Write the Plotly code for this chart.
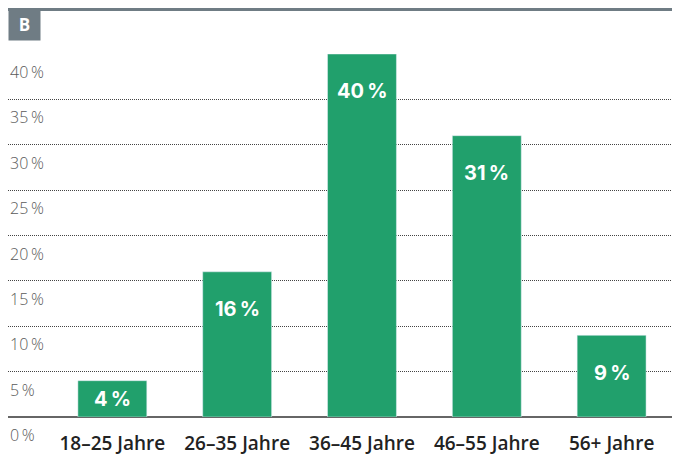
"""Age distribution bar chart (panel B)."""
import plotly.graph_objects as go

categories = ["18–25 Jahre", "26–35 Jahre", "36–45 Jahre", "46–55 Jahre", "56+ Jahre"]
shares = [4, 16, 40, 31, 9]
y_ticks = [0, 5, 10, 15, 20, 25, 30, 35, 40]
y_tick_labels = [f"{v}\u2009%" for v in y_ticks]

GREEN = "#21a06c"
SLATE = "#6f7c84"

fig = go.Figure(go.Bar(
    x=categories, y=shares,
    marker_color=GREEN,
    hoverinfo="skip",
))

# value labels inside bars, a fixed distance below the bar top
label_y = [max(v - 4.1, v / 2) for v in shares]
for cat, v, ly in zip(categories, shares, label_y):
    fig.add_annotation(
        x=cat, y=ly, text=f"{v}\u2009%", showarrow=False,
        font=dict(family="Inter", size=20, color="white", weight="bold"),
        yanchor="middle",
    )

# y tick labels sit just below each gridline, flush left
for v, lab in zip(y_ticks, y_tick_labels):
    fig.add_annotation(
        x=0, y=v, xref="paper", yref="y", text=lab, showarrow=False,
        xanchor="left", yanchor="top", yshift=-5,
        font=dict(family="Open Sans", size=16, color="#5a5a5a", weight=300),
    )

# header strip and panel letter
fig.add_shape(type="rect", xref="paper", yref="paper", ysizemode="pixel",
              yanchor=1, x0=0, x1=1, y0=43, y1=46,
              fillcolor=SLATE, line_width=0)
fig.add_annotation(x=0, y=1, xref="paper", yref="paper", yshift=46,
                   xanchor="left", yanchor="top",
                   text="<b>B</b>", showarrow=False,
                   width=31, height=31, align="center", valign="middle",
                   bgcolor=SLATE, borderpad=0,
                   font=dict(family="Open Sans", size=17, color="white"))

fig.update_layout(
    width=680, height=454,
    margin=dict(l=0, r=0, t=46, b=45),
    paper_bgcolor="white", plot_bgcolor="white",
    bargap=0.448,
    showlegend=False,
    font=dict(family="Open Sans"),
)
fig.update_xaxes(
    range=[-0.836, 4.612],
    showgrid=False, showline=False,
    ticks="outside", ticklen=9, tickcolor="rgba(0,0,0,0)",
    tickfont=dict(family="Open Sans", size=19, color="#222222", weight=600),
)
fig.update_yaxes(
    range=[0, 40],
    tickvals=y_ticks, showticklabels=False,
    showgrid=True, gridcolor="#444444", griddash="1px,1px", gridwidth=1,
    zeroline=True, zerolinecolor="#666666", zerolinewidth=2,
    showline=False,
)

fig.write_html("out.html")
